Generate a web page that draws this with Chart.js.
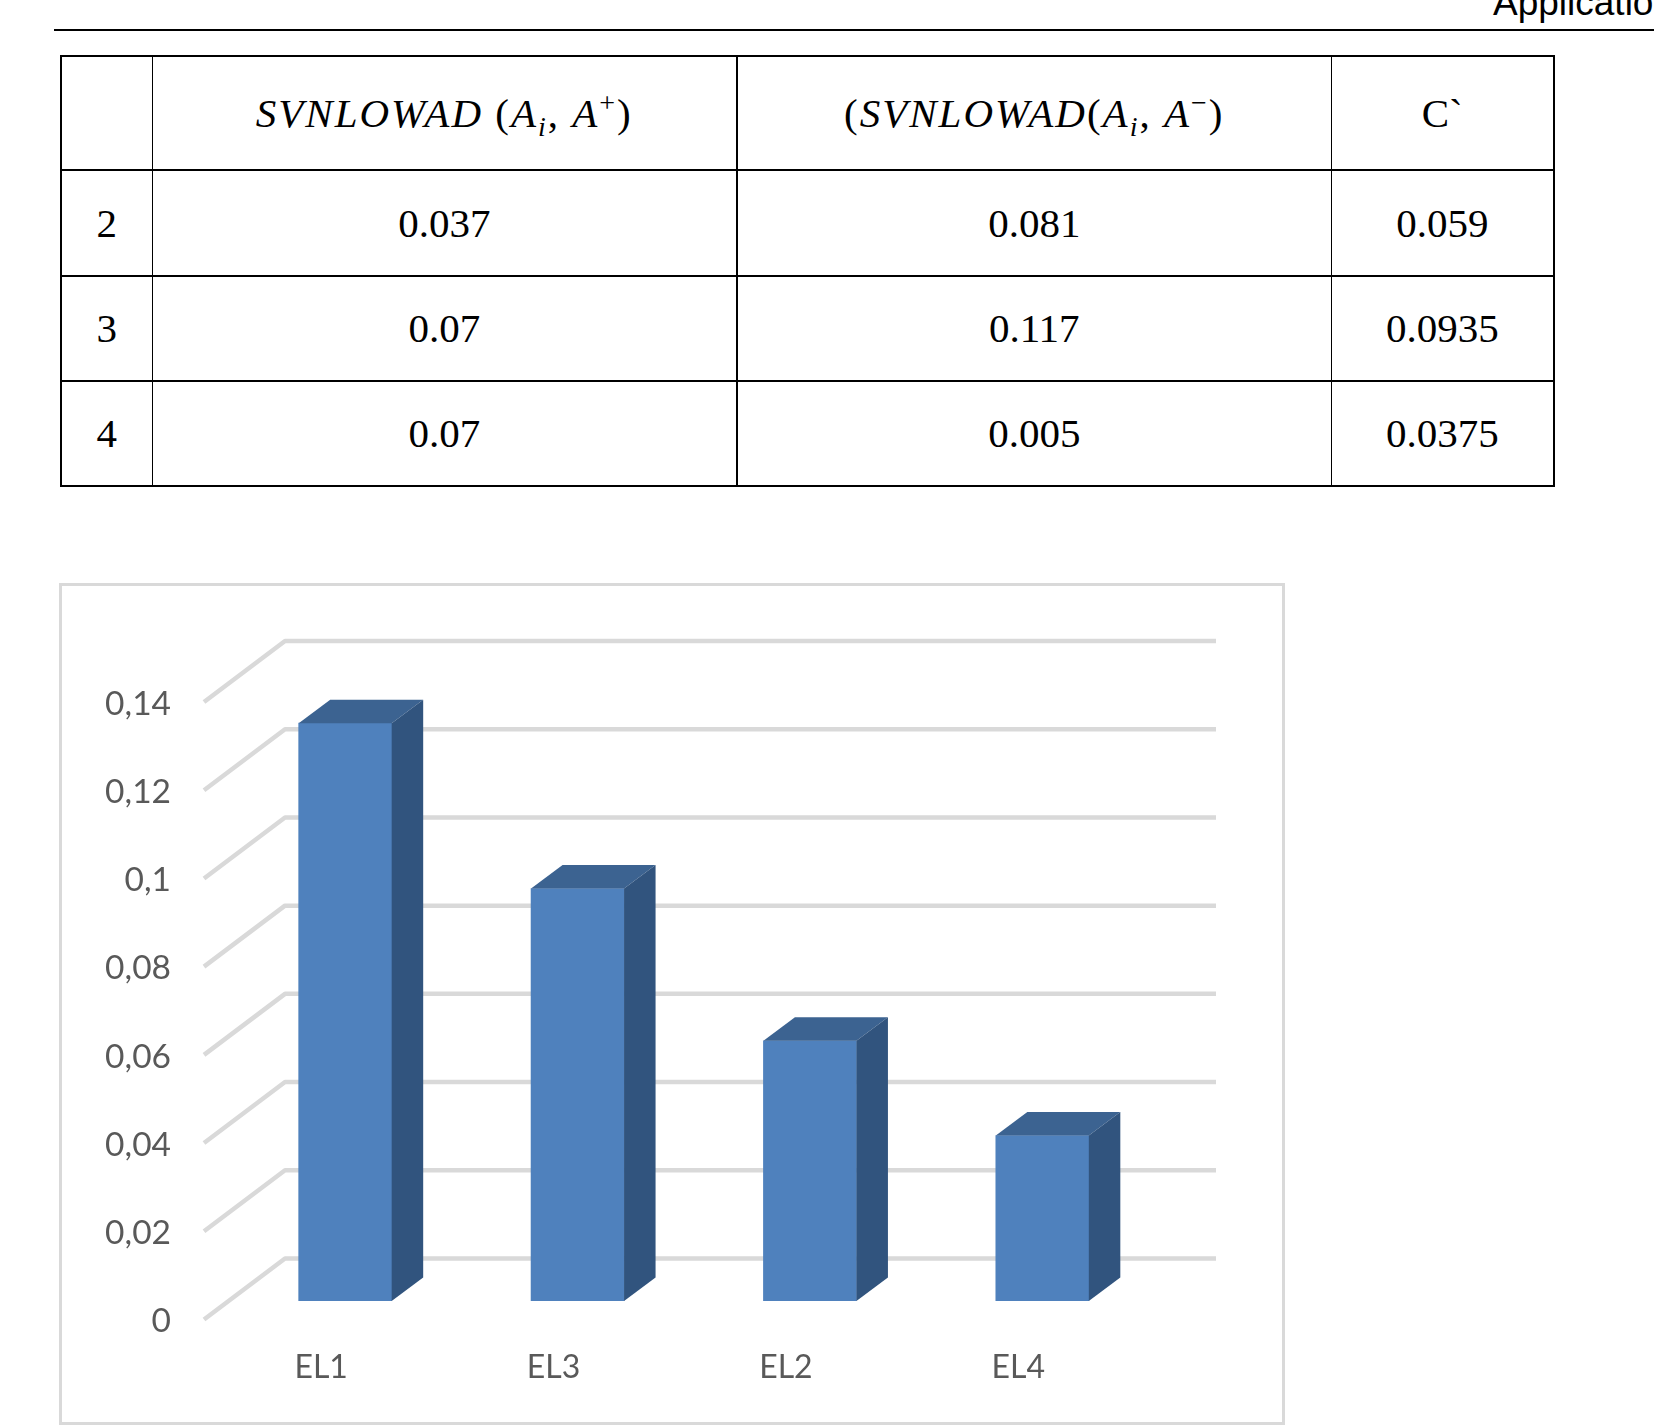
<!DOCTYPE html>
<html>
<head>
<meta charset="utf-8">
<title>EL ranking</title>
<script src="https://cdn.jsdelivr.net/npm/chart.js@4"></script>
<style>
	html, body { margin: 0; padding: 0; background: #fff; width: 1654px; height: 1427px; overflow: hidden; }
	#headText { position: absolute; left: 1493px; top: -18px; font: 37px "Liberation Sans"; color: #000; white-space: nowrap; line-height: 42px; }
	#headRule { position: absolute; left: 54px; top: 29px; width: 1600px; height: 2px; background: #000; }
	#valueTable { position: absolute; left: 60px; top: 55px; table-layout: fixed; border-collapse: collapse; font: 41px "Liberation Serif"; color: #000; }
	#valueTable td { border: 2px solid #000; border-left-width: 1px; border-right-width: 1px; text-align: center; vertical-align: middle; padding: 0 0 1px 0; box-sizing: border-box; }
	#valueTable tr td:first-child { border-left-width: 2px; }
	#valueTable tr td:last-child { border-right-width: 2px; }
	#valueTable tr td:nth-child(2) { border-right-width: 2px; }
	#valueTable tr:first-child td { letter-spacing: 2px; }
	#valueTable tr:first-child td:last-child { letter-spacing: 0; }
	#valueTable sub, #valueTable sup { font-size: 28px; line-height: 0; }
	#chartFrame { position: absolute; left: 59px; top: 583px; width: 1220px; height: 836px; border: 3px solid #d9d9d9; }
	#chartBox { position: absolute; left: 60px; top: 584px; }
</style>
</head>
<body>
<div id="headText">Applicatio</div>
<div id="headRule"></div>
<table id="valueTable"><colgroup><col style="width:91px"><col style="width:585px"><col style="width:594px"><col style="width:223px"></colgroup><tbody id="valueBody"></tbody></table>
<div id="chartFrame"></div>
<div id="chartBox"><canvas id="elChart" width="1223" height="838"></canvas></div>
<script>
var tableHead = ["", "<i>SVNLOWAD</i> (<i>A<sub>i</sub></i>, <i>A</i><sup>+</sup>)", "(<i>SVNLOWAD</i>(<i>A<sub>i</sub></i>, <i>A</i><sup>\u2212</sup>)", "C`"];
var rowNumbers = ["2", "3", "4"];
var plusValues = ["0.037", "0.07", "0.07"];
var minusValues = ["0.081", "0.117", "0.005"];
var closeValues = ["0.059", "0.0935", "0.0375"];
var rowHeights = [114, 106, 105, 105];

var categories = ["EL1", "EL3", "EL2", "EL4"];
var barValues = [0.131, 0.0935, 0.059, 0.0375];
var yTickLabels = ["0", "0,02", "0,04", "0,06", "0,08", "0,1", "0,12", "0,14"];

function buildTable() {
	var html = "<tr style='height:" + rowHeights[0] + "px'>";
	tableHead.forEach(function(cell) { html += "<td>" + cell + "</td>"; });
	html += "</tr>";
	rowNumbers.forEach(function(num, i) {
		html += "<tr style='height:" + rowHeights[i + 1] + "px'><td>" + num + "</td><td>" + plusValues[i] + "</td><td>" + minusValues[i] + "</td><td>" + closeValues[i] + "</td></tr>";
	});
	document.getElementById("valueBody").innerHTML = html;
}
buildTable();

// the fake 3D look: sloped walls behind the bars and extra bar faces
var wallX = 81, wallY = 61;
var barLift = 18.5, barDepthX = 31.5, barDepthY = 23.5;

var wallPlugin = {
	id: "walls",
	beforeDatasetsDraw: function(chart) {
		var ctx = chart.ctx, yScale = chart.scales.y, area = chart.chartArea;
		var x0 = area.left - 25, x1 = x0 + wallX, x2 = area.right + 57.5;
		ctx.save();
		ctx.strokeStyle = "#d9d9d9";
		ctx.lineWidth = 4.5;
		ctx.lineJoin = "bevel";
		yScale.ticks.forEach(function(tick) {
			var y = yScale.getPixelForValue(tick.value);
			ctx.beginPath();
			ctx.moveTo(x0, y);
			ctx.lineTo(x1, y - wallY);
			ctx.lineTo(x2, y - wallY);
			ctx.stroke();
		});
		ctx.restore();
	},
	beforeDatasetDraw: function(chart) {
		chart.ctx.save();
		chart.ctx.translate(0, -barLift);
	},
	afterDatasetDraw: function(chart, args) {
		var ctx = chart.ctx;
		args.meta.data.forEach(function(bar) {
			var left = bar.x - bar.width / 2, right = bar.x + bar.width / 2;
			ctx.fillStyle = "#3c6391";
			ctx.beginPath();
			ctx.moveTo(left, bar.y);
			ctx.lineTo(left + barDepthX, bar.y - barDepthY);
			ctx.lineTo(right + barDepthX, bar.y - barDepthY);
			ctx.lineTo(right, bar.y);
			ctx.closePath();
			ctx.fill();
			ctx.fillStyle = "#31547e";
			ctx.beginPath();
			ctx.moveTo(right, bar.y);
			ctx.lineTo(right + barDepthX, bar.y - barDepthY);
			ctx.lineTo(right + barDepthX, bar.base - barDepthY);
			ctx.lineTo(right, bar.base);
			ctx.closePath();
			ctx.fill();
		});
		ctx.restore();
	}
};

new Chart(document.getElementById("elChart"), {
	type: "bar",
	data: {
		labels: categories,
		datasets: [{
			data: barValues,
			backgroundColor: "#4f81bd",
			borderWidth: 0,
			barThickness: 93
		}]
	},
	options: {
		responsive: false,
		animation: false,
		layout: { padding: { top: 118, right: 124.5, left: 0, bottom: 0 } },
		plugins: { legend: { display: false }, tooltip: { enabled: false } },
		scales: {
			x: {
				grid: { display: false, drawTicks: false },
				border: { display: false },
				ticks: { color: "#595959", font: { family: "Lato", size: 32 }, padding: 29, labelOffset: -24, maxRotation: 0 },
				afterFit: function(scale) { scale.height = 102.5; }
			},
			y: {
				min: 0,
				max: 0.14,
				grid: { display: false, drawTicks: false },
				border: { display: false },
				ticks: {
					stepSize: 0.02,
					color: "#595959",
					font: { family: "Lato", size: 33.5 },
					padding: 58,
					labelOffset: 2,
					callback: function(value, i) { return yTickLabels[i]; }
				},
				afterFit: function(scale) { scale.width = 169; }
			}
		}
	},
	plugins: [wallPlugin]
});
</script>
</body>
</html>
